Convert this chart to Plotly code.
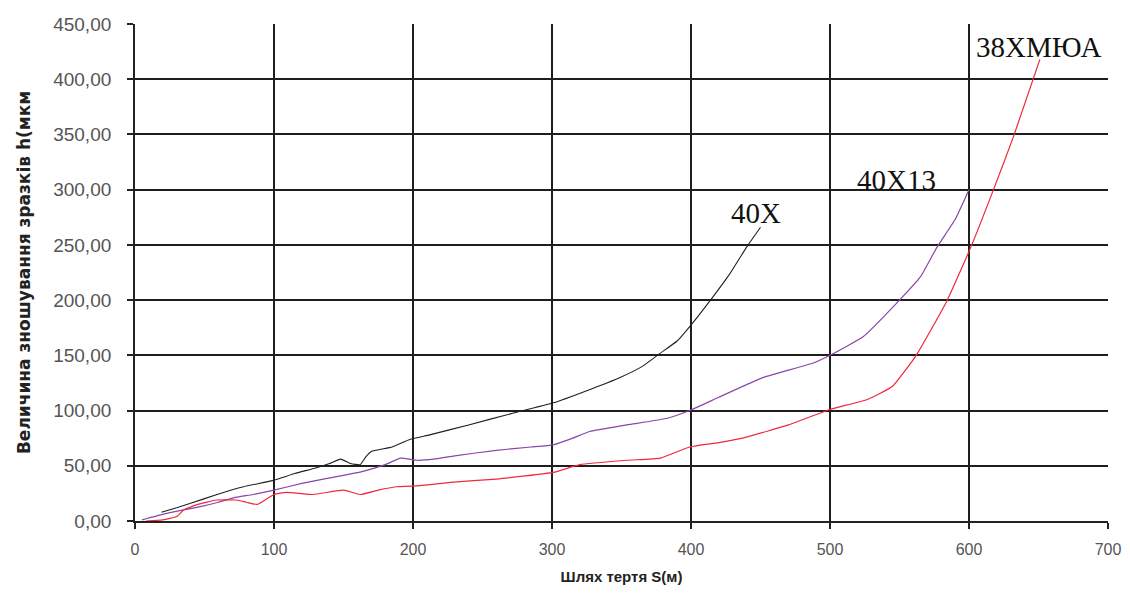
import plotly.graph_objects as go

# 40Х
x_40x = [19, 30, 40, 59, 78, 100, 115, 130, 140, 148, 155, 162, 166, 170, 185, 198, 212, 240, 270, 301, 325, 349, 365, 378, 390, 401, 414, 428, 440, 450]
y_40x = [8, 12, 16, 24, 31, 37, 43, 48, 52, 56, 52, 51, 58, 63, 67, 74, 78, 87, 97, 107, 118, 130, 140, 152, 163, 179, 200, 224, 248, 266]

# 40Х13
x_40x13 = [5, 20, 35, 47, 60, 71, 85, 100, 120, 140, 164, 180, 191, 203, 215, 230, 260, 285, 301, 315, 327, 354, 383, 399, 420, 452, 488, 500, 524, 550, 565, 577, 590, 600]
y_40x13 = [1, 6, 10, 13, 17, 21, 24, 28, 34, 39, 45, 51, 57, 55, 56, 59, 64, 67, 69, 75, 81, 87, 93, 100, 112, 130, 143, 150, 167, 200, 221, 248, 273, 300]

# 38ХМЮА
x_38 = [8, 20, 30, 35, 45, 59, 73, 80, 88, 100, 109, 128, 150, 162, 175, 188, 205, 227, 260, 301, 320, 354, 378, 399, 420, 440, 470, 500, 527, 545, 562, 584, 602, 617, 632, 651]
y_38 = [0, 1, 4, 10, 15, 19, 19, 17, 15, 24, 26, 24, 28, 24, 28, 31, 32, 35, 38, 44, 51, 55, 57, 67, 71, 76, 87, 101, 110, 122, 150, 199, 250, 298, 348, 418]

labels = ["40Х", "40Х13", "38ХМЮА"]
label_x = [447, 548, 650]
label_y = [279, 309, 429]

x_ticks = [0, 100, 200, 300, 400, 500, 600, 700]
y_ticks = [0, 50, 100, 150, 200, 250, 300, 350, 400, 450]

fig = go.Figure()
fig.add_trace(go.Scatter(x=x_40x, y=y_40x, mode="lines", name=labels[0],
                         line=dict(color="#202020", width=1.1, shape="spline", smoothing=0.4)))
fig.add_trace(go.Scatter(x=x_40x13, y=y_40x13, mode="lines", name=labels[1],
                         line=dict(color="#8a46a8", width=1.2, shape="spline", smoothing=0.4)))
fig.add_trace(go.Scatter(x=x_38, y=y_38, mode="lines", name=labels[2],
                         line=dict(color="#f0283a", width=1.2, shape="spline", smoothing=0.4)))

for t, lx, ly in zip(labels, label_x, label_y):
    fig.add_annotation(x=lx, y=ly, text=t, showarrow=False,
                       font=dict(family="Liberation Serif", size=29, color="#111"))

fig.update_layout(
    width=1130, height=595,
    margin=dict(l=127, r=30, t=16, b=82),
    paper_bgcolor="white", plot_bgcolor="white",
    showlegend=False,
    separators=",.",
    font=dict(family="Liberation Sans", color="#444"),
)
fig.update_xaxes(
    range=[0, 700], tickvals=x_ticks, ticks="outside", ticklen=6, tickcolor="#222", tickwidth=1.5,
    showgrid=True, gridcolor="#1e1e1e", gridwidth=1.8,
    showline=True, linecolor="#222", linewidth=1.8,
    tickfont=dict(size=16, color="#555"), ticklabelstandoff=7,
    title=dict(text="<b>Шлях тертя S(м)</b>", font=dict(size=15, color="#222"), standoff=14),
    zeroline=False, automargin=False,
)
fig.update_yaxes(
    range=[0, 450], tickvals=y_ticks, tickformat=".2f", ticks="outside", ticklen=6, tickcolor="#222", tickwidth=1.5,
    showgrid=True, gridcolor="#1e1e1e", gridwidth=1.8,
    showline=True, linecolor="#222", linewidth=1.8,
    tickfont=dict(size=19, color="#555"), ticklabelstandoff=12,
    title=dict(text="<b>Величина зношування зразків h(мкм</b>",
               font=dict(family="DejaVu Sans", size=17, color="#222"), standoff=18),
    zeroline=False, automargin=False,
)
fig.write_html("out.html")
